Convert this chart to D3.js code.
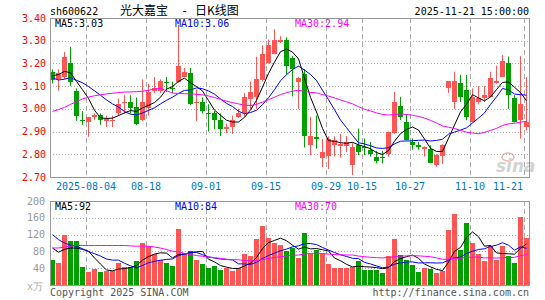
<!DOCTYPE html>
<html><head><meta charset="utf-8">
<script src="https://cdn.jsdelivr.net/npm/d3@7"></script>
<style>
body{margin:0;background:#fff;}
svg{display:block;}
text{font-family:"DejaVu Sans Mono",monospace;font-size:10px;}
</style>
</head><body>
<svg id="chart" width="545" height="300"></svg>
<script>
// ---------- DATA ----------
const dates = ["2025-07-25","2025-07-28","2025-07-29","2025-07-30","2025-07-31","2025-08-01",
"2025-08-04","2025-08-05","2025-08-06","2025-08-07","2025-08-08","2025-08-11","2025-08-12","2025-08-13","2025-08-14","2025-08-15",
"2025-08-18","2025-08-19","2025-08-20","2025-08-21","2025-08-22","2025-08-25","2025-08-26","2025-08-27","2025-08-28","2025-08-29",
"2025-09-01","2025-09-02","2025-09-03","2025-09-04","2025-09-05","2025-09-08","2025-09-09","2025-09-10","2025-09-11","2025-09-12",
"2025-09-15","2025-09-16","2025-09-17","2025-09-18","2025-09-19","2025-09-22","2025-09-23","2025-09-24","2025-09-25","2025-09-26",
"2025-09-29","2025-09-30","2025-10-09","2025-10-10","2025-10-13","2025-10-14",
"2025-10-15","2025-10-16","2025-10-17","2025-10-20","2025-10-21","2025-10-22","2025-10-23","2025-10-24",
"2025-10-27","2025-10-28","2025-10-29","2025-10-30","2025-10-31","2025-11-03","2025-11-04","2025-11-05","2025-11-06","2025-11-07",
"2025-11-10","2025-11-11","2025-11-12","2025-11-13","2025-11-14","2025-11-17","2025-11-18","2025-11-19","2025-11-20","2025-11-21"];

const open  = [3.163,3.131,3.14,3.20,3.08,2.95,2.943,2.963,2.972,2.947,2.945,2.98,3.024,3.03,3.01,2.95,3.005,3.077,3.077,3.12,
3.094,3.12,3.14,3.156,3.025,3.03,2.983,2.98,2.953,2.912,2.92,2.962,2.982,3.043,3.053,3.127,3.203,3.241,3.296,3.303,
3.222,3.119,3.153,2.84,2.874,2.784,2.791,2.84,2.835,2.835,2.751,2.84,2.83,2.82,2.79,2.79,2.80,2.894,3.012,2.943,
2.854,2.84,2.825,2.825,2.752,2.791,3.094,3.03,3.115,3.082,2.943,3.03,3.05,3.053,3.115,3.141,3.203,3.05,2.95,2.92];
const high  = [3.174,3.174,3.251,3.273,3.09,2.99,2.965,2.98,2.98,2.97,2.97,3.045,3.06,3.06,3.05,3.13,3.11,3.14,3.13,3.14,
3.12,3.37,3.18,3.18,3.085,3.05,3.02,2.99,2.98,2.935,2.97,3.0,3.07,3.12,3.23,3.28,3.305,3.35,3.32,3.315,
3.232,3.14,3.175,2.965,2.97,2.868,2.879,2.879,2.89,2.88,2.85,2.913,2.869,2.854,2.815,2.815,2.90,3.075,3.053,2.976,
2.87,2.855,2.835,2.84,2.80,2.845,3.123,3.163,3.15,3.149,3.09,3.10,3.10,3.163,3.19,3.237,3.23,3.06,3.232,3.14];
const low   = [3.112,3.08,3.13,3.10,2.947,2.93,2.877,2.95,2.93,2.92,2.92,2.97,2.98,2.98,2.928,2.945,2.97,3.07,3.07,3.075,
3.07,3.115,3.14,3.016,2.947,2.98,2.90,2.91,2.88,2.893,2.89,2.96,2.965,3.0,3.0,3.12,3.2,3.24,3.29,3.15,
3.055,3.0,2.83,2.796,2.825,2.743,2.735,2.79,2.785,2.81,2.708,2.796,2.796,2.79,2.76,2.76,2.79,2.89,2.95,2.86,
2.82,2.82,2.79,2.76,2.745,2.758,3.07,3.0,3.03,2.95,2.94,3.02,3.03,3.05,3.11,3.14,3.0,2.94,2.869,2.905];
const close = [3.129,3.156,3.23,3.12,2.97,2.945,2.963,2.972,2.953,2.955,2.952,3.02,3.031,3.005,2.935,3.03,3.075,3.094,3.122,3.113,
3.087,3.19,3.163,3.021,3.03,2.99,2.98,2.95,2.91,2.92,2.95,2.98,3.053,3.075,3.13,3.241,3.281,3.303,3.303,3.188,
3.174,3.134,2.879,2.879,2.866,2.81,2.866,2.865,2.847,2.854,2.832,2.81,2.826,2.80,2.77,2.788,2.899,3.031,2.965,2.865,
2.84,2.833,2.832,2.762,2.796,2.84,3.122,3.123,3.053,2.962,3.053,3.05,3.06,3.138,3.123,3.212,3.06,2.943,3.02,2.943];
// volume, 10k shares
const volume = [59,52,120,104,104,44,31,39,31,34,34,52,44,44,56,101,93,74,59,52,
45,134,77,80,59,50,41,45,36,41,34,41,74,69,109,141,112,100,95,80,
87,65,125,73,84,73,50,41,41,41,43,57,36,36,36,29,69,109,71,59,
48,31,40,38,29,34,130,170,84,148,100,73,57,93,59,93,70,52,163,112];
// sessions before the first visible day (feed the moving averages)
const priorClose = [2.916,2.93,2.73,2.61,2.585,2.723,2.792,2.833,2.835,2.862,2.93,2.971,2.975,2.905,2.97,
2.955,2.914,3.062,3.413,3.387,3.25,3.193,3.051,3.09,3.05,3.13,3.16,3.15,3.16];
const priorVolume = [50,48,52,50,44,33,40,30,35,34,50,45,70,80,90,110,120,140,150,171,
172,200,154,134,100,102,85,89,105];

const priceTicks = [2.70,2.80,2.90,3.00,3.10,3.20,3.30,3.40];
const volumeTicks = [0,40,80,120,160,200];
const dateTicks = ["2025-08-04","2025-08-18","2025-09-01","2025-09-15","2025-09-29","2025-10-15","2025-10-27","2025-11-10","2025-11-21"];
const dateTickLabels = ["2025-08-04","08-18","09-01","09-15","09-29","10-15","10-27","11-10","11-21"];
const priceMALabels = ["MA5:3.03","MA10:3.06","MA30:2.94"];
const volumeMALabels = ["MA5:92","MA10:84","MA30:70"];
const maPeriods = [5,10,30];
const maColors = ["#000000","#0000ff","#ff00ff"];

// ---------- CHART ----------
const svg = d3.select("#chart");
const n = dates.length;
const L = 50, R = 529;
const x = d3.scaleBand().domain(d3.range(n)).range([L-0.5, R+0.5]).paddingInner(1/6).paddingOuter(1/12);
const y = d3.scaleLinear().domain([2.70,3.40]).range([177,18]);
const yv = d3.scaleLinear().domain([0,200]).range([285,201]);
const RED = "#ff5555", GREEN = "#00a000", GRID = "#aaaaaa";

function ma(series, prior, p){
  const all = prior.concat(series), off = prior.length;
  return series.map((_, i) => d3.mean(all.slice(off + i - p + 1, off + i + 1)));
}
const up = d3.range(n).map(i => close[i] >= open[i]);

// header
svg.append("text").attr("x",50).attr("y",15).text("sh600622").attr("fill","#000");
svg.append("text").attr("x",120).attr("y",15).style("font-family","'Noto Sans CJK SC'").style("font-size","12px").text("光大嘉宝");
svg.append("text").attr("x",181).attr("y",15).style("font-size","12px").text("-");
svg.append("text").attr("x",195).attr("y",15).style("font-family","'Noto Sans CJK SC'").style("font-size","12px").text("日K线图");
svg.append("text").attr("x",529).attr("y",15).attr("text-anchor","end").text("2025-11-21 15:00:00");

function panelGrid(y0, y1, hy, hvals){
  const g = svg.append("g").attr("shape-rendering","crispEdges");
  hvals.forEach(v => {
    const yy = Math.round(hy(v)) + 0.5;
    g.append("line").attr("x1",L).attr("x2",R).attr("y1",yy).attr("y2",yy)
      .attr("stroke",GRID).attr("stroke-dasharray","1,2");
  });
  dateTicks.forEach(d => {
    const xx = x(dates.indexOf(d)) + 0.5;
    g.append("line").attr("x1",xx).attr("x2",xx).attr("y1",y0).attr("y2",y1)
      .attr("stroke",GRID).attr("stroke-dasharray","5,3");
  });
}
panelGrid(18, 177, y, priceTicks.slice(1,-1));
panelGrid(201, 285, yv, volumeTicks.slice(1,-1));

// price axis labels
svg.append("g").selectAll("text").data(priceTicks).join("text")
  .attr("x",46).attr("y",d => y(d) + 3.5).attr("text-anchor","end").attr("fill","#ff0000")
  .text(d => d3.format(".2f")(d));
// volume axis labels
svg.append("g").selectAll("text").data(volumeTicks.slice(1)).join("text")
  .attr("x",45).attr("y",d => yv(d) + 3.5).attr("text-anchor","end").attr("fill","#999")
  .text(d => d);
svg.append("text").attr("x",43).attr("y",289.5).attr("text-anchor","end").attr("fill","#aaa").text("x万");

// date labels
svg.append("g").selectAll("text").data(dateTicks).join("text")
  .attr("x",(d,k) => Math.min(x(dates.indexOf(d)), 508))
  .attr("y",189.5).attr("text-anchor","middle").attr("fill","#0078d0")
  .text((d,k) => dateTickLabels[k]);

// watermark
const wm = svg.append("g").attr("opacity",0.55);
wm.append("ellipse").attr("cx",508).attr("cy",157).attr("rx",6).attr("ry",4).attr("fill","none").attr("stroke","#e08080").attr("stroke-width",1.5);
wm.append("text").attr("x",496).attr("y",172).style("font-family","'DejaVu Sans'").style("font-size","17px")
  .style("font-style","italic").style("font-weight","bold").attr("fill","#b0b0b0").text("sina");

// candles
const cg = svg.append("g");
d3.range(n).forEach(i => {
  const col = up[i] ? RED : GREEN;
  const cx = x(i) + 2.5;
  cg.append("line").attr("x1",cx).attr("x2",cx).attr("y1",y(high[i])).attr("y2",y(low[i])).attr("stroke",col);
  const top = y(Math.max(open[i],close[i])), bot = y(Math.min(open[i],close[i]));
  cg.append("rect").attr("x",x(i)).attr("width",x.bandwidth())
    .attr("y",Math.round(top)).attr("height",Math.max(1, Math.round(bot) - Math.round(top)))
    .attr("fill",col).attr("shape-rendering","crispEdges");
});

// volume bars
svg.append("g").attr("shape-rendering","crispEdges").selectAll("rect").data(volume).join("rect")
  .attr("x",(d,i) => x(i)).attr("width",x.bandwidth())
  .attr("y",d => Math.round(yv(d))).attr("height",d => 285 - Math.round(yv(d)))
  .attr("fill",(d,i) => up[i] ? RED : GREEN);

// moving averages
maPeriods.forEach((p,k) => {
  const pm = ma(close, priorClose, p);
  const vm = ma(volume, priorVolume, p);
  svg.append("path").datum(pm).attr("fill","none").attr("stroke",maColors[k]).attr("stroke-width",1)
    .attr("d", d3.line().x((d,i) => x(i) + 2.5).y(d => y(d)));
  svg.append("path").datum(vm).attr("fill","none").attr("stroke",maColors[k]).attr("stroke-width",1)
    .attr("d", d3.line().x((d,i) => x(i) + 2.5).y(d => yv(d)));
});

// frames
svg.append("rect").attr("x",50.5).attr("y",18.5).attr("width",479).attr("height",159)
  .attr("fill","none").attr("stroke","#999").attr("shape-rendering","crispEdges");
svg.append("rect").attr("x",50.5).attr("y",201.5).attr("width",479).attr("height",84)
  .attr("fill","none").attr("stroke","#999").attr("shape-rendering","crispEdges");

// MA legends
[55,175,295].forEach((xx,k) => {
  svg.append("text").attr("x",xx).attr("y",27).attr("fill",maColors[k]).text(priceMALabels[k]);
  svg.append("text").attr("x",xx).attr("y",210).attr("fill",maColors[k]).text(volumeMALabels[k]);
});

// footer
svg.append("text").attr("x",50).attr("y",296).attr("fill","#555").text("Copyright 2025 SINA.COM");
svg.append("text").attr("x",529).attr("y",296).attr("text-anchor","end").attr("fill","#555").text("http://finance.sina.com.cn");
</script>
</body></html>
